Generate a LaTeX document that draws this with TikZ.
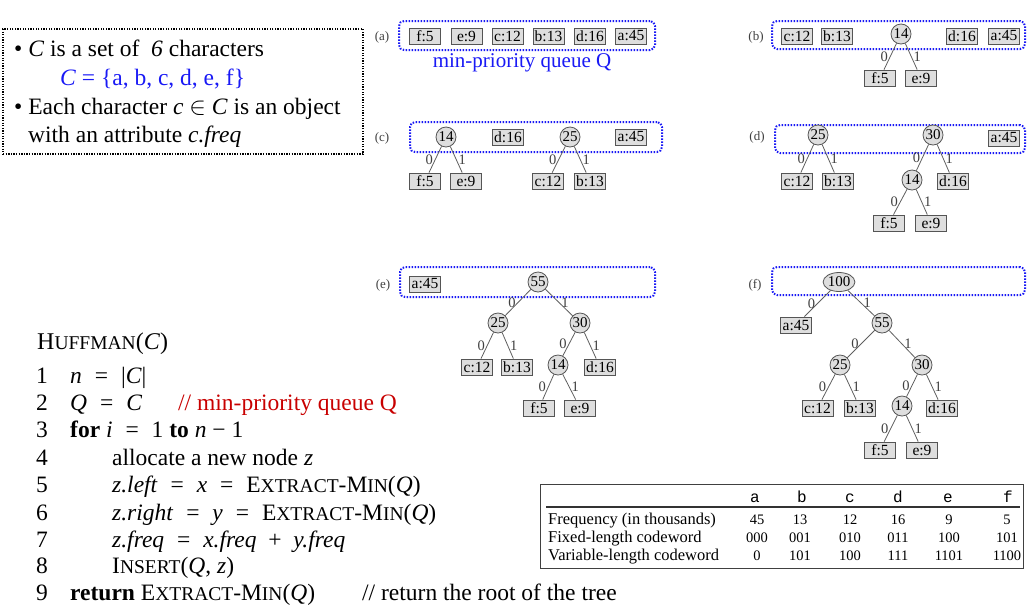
\documentclass[tikz,border=0pt]{standalone}
\usepackage{fontspec}
\setmainfont{Liberation Serif}
\setmonofont{Liberation Mono}
\usetikzlibrary{shapes.geometric}
\definecolor{qblue}{RGB}{25,25,245}
\definecolor{cred}{RGB}{200,0,0}
\definecolor{boxfill}{RGB}{222,222,222}
\definecolor{boxline}{RGB}{85,85,85}
\definecolor{edgecol}{RGB}{95,95,95}
\newcommand{\fs}[1]{\fontsize{#1}{#1}\selectfont}
\newcommand{\smc}[2]{#1{\fs{19.5}#2}}
\newcommand{\eq}{\hspace{0.55em}=\hspace{0.55em}}
\newcommand{\pl}{\hspace{0.5em}+\hspace{0.5em}}
\tikzset{
  leaf/.style={rectangle, draw=boxline, fill=boxfill, line width=0.8pt, minimum width=31pt, minimum height=16pt, inner sep=0pt, font=\fs{15.5}},
  inode/.style={circle, draw=boxline, fill=boxfill, line width=0.8pt, minimum size=20pt, inner sep=0pt, font=\fs{15}},
  rootnode/.style={ellipse, draw=boxline, fill=boxfill, line width=0.8pt, minimum width=28pt, minimum height=19pt, inner sep=0pt, font=\fs{15}},
  edge/.style={draw=edgecol, line width=0.8pt},
  lbl/.style={font=\fs{14.5}, text=black!75, inner sep=2pt},
  queue/.style={draw=qblue, line width=2pt, dash pattern=on 1.5pt off 1.5pt, rounded corners=5pt, inner sep=0pt},
  plabel/.style={font=\fs{13}, text=black!75, inner sep=0pt},
  txt/.style={font=\fs{23.5}, inner sep=0pt, anchor=base west},
  num/.style={font=\fs{23.5}, inner sep=0pt, anchor=base},
  tbl/.style={font=\fs{14.5}, inner sep=0pt, anchor=base},
  tbll/.style={font=\fs{16.5}, inner sep=0pt, anchor=base west},
  tblh/.style={font=\fs{16}\ttfamily, inner sep=0pt, anchor=base},
}
\newcommand{\zedge}[2]{\draw[edge] (#1) -- node[lbl,left]{0} (#2);}
\newcommand{\oedge}[2]{\draw[edge] (#1) -- node[lbl,right]{1} (#2);}
\begin{document}
\begin{tikzpicture}[x=1pt,y=-1pt]
\useasboundingbox (0,0) rectangle (1027,614);

% ---------- info box ----------
\node[draw, line width=1.3pt, dash pattern=on 1.3pt off 1.3pt, minimum width=360pt, minimum height=125pt, inner sep=0pt] (info) at (183,91.5) {};
\node[txt] (i1) at (14,56) {• \textit{C} is a set of \ \textit{6} characters};
\node[txt, text=qblue] (i2) at (60,85) {\textit{C} = \{a, b, c, d, e, f\}};
\node[txt] (i3) at (14,114) {• Each character \textit{c} $\in$ \textit{C} is an object};
\node[txt] (i4) at (28,142) {with an attribute \textit{c.freq}};

% ---------- panel (a) ----------
\node[plabel] (la) at (382,37) {(a)};
\node[queue, minimum width=256pt, minimum height=29pt] (qa) at (527,35.5) {};
\node[leaf] (a-f5) at (425,36) {f:5};
\node[leaf] (a-e9) at (466.5,36) {e:9};
\node[leaf] (a-c12) at (507.5,36) {c:12};
\node[leaf] (a-b13) at (548.5,36) {b:13};
\node[leaf] (a-d16) at (590,36) {d:16};
\node[leaf] (a-a45) at (631,36) {a:45};
\node[font=\fs{21}, text=qblue, inner sep=0pt] (qlabel) at (522,63) {min-priority queue Q};

% ---------- panel (b) ----------
\node[plabel] (lb) at (756,37) {(b)};
\node[queue, minimum width=253pt, minimum height=28pt] (qb) at (898.5,35) {};
\node[leaf] (b-c12) at (797,36) {c:12};
\node[leaf] (b-b13) at (837,36) {b:13};
\node[inode] (b-14) at (901,34) {14};
\node[leaf] (b-d16) at (962,36) {d:16};
\node[leaf] (b-a45) at (1004,36) {a:45};
\node[leaf] (b-f5) at (880,78) {f:5};
\node[leaf] (b-e9) at (921,78) {e:9};
\zedge{b-14}{b-f5}
\oedge{b-14}{b-e9}

% ---------- panel (c) ----------
\node[plabel] (lc) at (382,138) {(c)};
\node[queue, minimum width=252pt, minimum height=30pt] (qc) at (536,137) {};
\node[inode] (c-14) at (446,137) {14};
\node[leaf] (c-d16) at (508,137) {d:16};
\node[inode] (c-25) at (570,137) {25};
\node[leaf] (c-a45) at (631,137) {a:45};
\node[leaf] (c-f5) at (425,181) {f:5};
\node[leaf] (c-e9) at (466,181) {e:9};
\node[leaf] (c-c12) at (548,181) {c:12};
\node[leaf] (c-b13) at (590,181) {b:13};
\zedge{c-14}{c-f5}
\oedge{c-14}{c-e9}
\zedge{c-25}{c-c12}
\oedge{c-25}{c-b13}

% ---------- panel (d) ----------
\node[plabel] (ld) at (757,137) {(d)};
\node[queue, minimum width=250pt, minimum height=28pt] (qd) at (900,139) {};
\node[inode] (d-25) at (818,135) {25};
\node[inode] (d-30) at (933,135) {30};
\node[leaf] (d-a45) at (1004,138) {a:45};
\node[leaf] (d-c12) at (797,181) {c:12};
\node[leaf] (d-b13) at (838,181) {b:13};
\node[inode] (d-14) at (912,180) {14};
\node[leaf] (d-d16) at (953,181) {d:16};
\node[leaf] (d-f5) at (889,223) {f:5};
\node[leaf] (d-e9) at (931,223) {e:9};
\zedge{d-25}{d-c12}
\oedge{d-25}{d-b13}
\zedge{d-30}{d-14}
\oedge{d-30}{d-d16}
\zedge{d-14}{d-f5}
\oedge{d-14}{d-e9}

% ---------- panel (e) ----------
\node[plabel] (le) at (383,285) {(e)};
\node[queue, minimum width=255pt, minimum height=30pt] (qe) at (527.5,282) {};
\node[leaf] (e-a45) at (425,284) {a:45};
\node[inode] (e-55) at (538,282) {55};
\node[inode] (e-25) at (498,323) {25};
\node[inode] (e-30) at (580,323) {30};
\node[leaf] (e-c12) at (477,367) {c:12};
\node[leaf] (e-b13) at (517,367) {b:13};
\node[inode] (e-14) at (558,365) {14};
\node[leaf] (e-d16) at (600,367) {d:16};
\node[leaf] (e-f5) at (539,408) {f:5};
\node[leaf] (e-e9) at (580,408) {e:9};
\zedge{e-55}{e-25}
\oedge{e-55}{e-30}
\zedge{e-25}{e-c12}
\oedge{e-25}{e-b13}
\zedge{e-30}{e-14}
\oedge{e-30}{e-d16}
\zedge{e-14}{e-f5}
\oedge{e-14}{e-e9}

% ---------- panel (f) ----------
\node[plabel] (lf) at (755,285) {(f)};
\node[queue, minimum width=253pt, minimum height=28pt] (qf) at (898.5,281) {};
\node[rootnode] (f-100) at (839,282) {100};
\node[leaf] (f-a45) at (796,325) {a:45};
\node[inode] (f-55) at (882,323) {55};
\node[inode] (f-25) at (840,365) {25};
\node[inode] (f-30) at (922,365) {30};
\node[leaf] (f-c12) at (817.5,408) {c:12};
\node[leaf] (f-b13) at (860,408) {b:13};
\node[inode] (f-14) at (902,406) {14};
\node[leaf] (f-d16) at (942,408) {d:16};
\node[leaf] (f-f5) at (880,450) {f:5};
\node[leaf] (f-e9) at (922,450) {e:9};
\zedge{f-100}{f-a45}
\oedge{f-100}{f-55}
\zedge{f-55}{f-25}
\oedge{f-55}{f-30}
\zedge{f-25}{f-c12}
\oedge{f-25}{f-b13}
\zedge{f-30}{f-14}
\oedge{f-30}{f-d16}
\zedge{f-14}{f-f5}
\oedge{f-14}{f-e9}

% ---------- algorithm ----------
\node[txt] (hd) at (37,349) {\fs{24}H{\fs{19.5}UFFMAN}(\textit{C})};
\node[num] (n1) at (42,383) {1};
\node[num] (n2) at (42,410) {2};
\node[num] (n3) at (42,437) {3};
\node[num] (n4) at (42,465) {4};
\node[num] (n5) at (42,492) {5};
\node[num] (n6) at (42,520) {6};
\node[num] (n7) at (42,547) {7};
\node[num] (n8) at (42,573) {8};
\node[num] (n9) at (42,600) {9};
\node[txt] (c1) at (70,383) {\textit{n}\eq|\textit{C}|};
\node[txt] (c2) at (70,410) {\textit{Q}\eq\textit{C}};
\node[txt, text=cred] (cm2) at (178,410) {// min-priority queue Q};
\node[txt] (c3) at (70,437) {\textbf{for} \textit{i}\eq1 \textbf{to} \textit{n} − 1};
\node[txt] (c4) at (112,465) {allocate a new node \textit{z}};
\node[txt] (c5) at (112,492) {\textit{z.left}\eq\textit{x}\eq\smc{E}{XTRACT}-\smc{M}{IN}(\textit{Q})};
\node[txt] (c6) at (112,520) {\textit{z.right}\eq\textit{y}\eq\smc{E}{XTRACT}-\smc{M}{IN}(\textit{Q})};
\node[txt] (c7) at (112,547) {\textit{z.freq}\eq\textit{x.freq}\pl\textit{y.freq}};
\node[txt] (c8) at (112,573) {\smc{I}{NSERT}(\textit{Q}, \textit{z})};
\node[txt] (c9) at (70,600) {\textbf{return} \smc{E}{XTRACT}-\smc{M}{IN}(\textit{Q})};
\node[txt] (cm9) at (362,600) {// return the root of the tree};

% ---------- table ----------
\node[draw=black!75, line width=0.8pt, minimum width=483pt, minimum height=84pt, inner sep=0pt] (tab) at (781.5,526) {};
\draw[line width=2pt, black!80] (546,507) -- (1020,507);
\node[tblh] (ha) at (755,502) {a};
\node[tblh] (hb) at (802,502) {b};
\node[tblh] (hc) at (850,502) {c};
\node[tblh] (hd2) at (898,502) {d};
\node[tblh] (he) at (948,502) {e};
\node[tblh] (hf) at (1008,502) {f};
\node[tbll] (r1) at (548,524) {Frequency (in thousands)};
\node[tbll] (r2) at (548,542) {Fixed-length codeword};
\node[tbll] (r3) at (548,560) {Variable-length codeword};
\node[tbl] (r1a) at (757,524) {45};
\node[tbl] (r1b) at (800,524) {13};
\node[tbl] (r1c) at (850,524) {12};
\node[tbl] (r1d) at (898,524) {16};
\node[tbl] (r1e) at (949,524) {9};
\node[tbl] (r1f) at (1007,524) {5};
\node[tbl] (r2a) at (757,542) {000};
\node[tbl] (r2b) at (800,542) {001};
\node[tbl] (r2c) at (850,542) {010};
\node[tbl] (r2d) at (898,542) {011};
\node[tbl] (r2e) at (949,542) {100};
\node[tbl] (r2f) at (1007,542) {101};
\node[tbl] (r3a) at (757,560) {0};
\node[tbl] (r3b) at (800,560) {101};
\node[tbl] (r3c) at (850,560) {100};
\node[tbl] (r3d) at (898,560) {111};
\node[tbl] (r3e) at (949,560) {1101};
\node[tbl] (r3f) at (1007,560) {1100};
\end{tikzpicture}
\end{document}
